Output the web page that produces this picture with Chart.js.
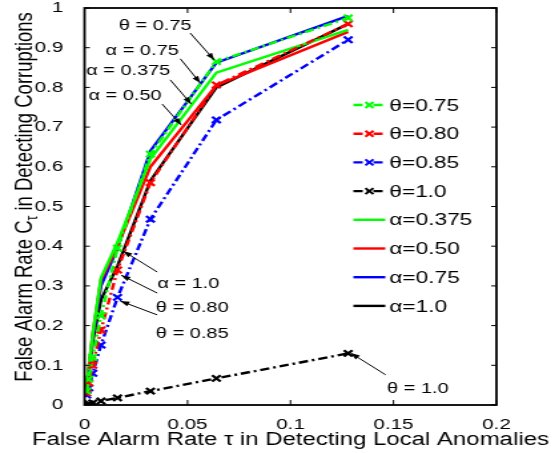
<!DOCTYPE html>
<html lang="en">
<head>
<meta charset="UTF-8">
<title>False alarm rates</title>
<script src="https://cdn.jsdelivr.net/npm/chart.js"></script>
<style>
  html, body { margin: 0; padding: 0; background: #fff; overflow: hidden; }
  /* the reference figure is stretched sideways, so draw narrow and stretch */
  #wrap { width: 420px; height: 453px; transform: scaleX(1.331); transform-origin: 0 0; }
</style>
</head>
<body>
<div id="wrap"><canvas id="roc"></canvas></div>
<script>
// false alarm rate tau (x) for every curve
const tau = [0.001, 0.002, 0.004, 0.008, 0.016, 0.032, 0.064, 0.128];

// dash-dot curves with markers
const theta075 = [0.035, 0.065, 0.12, 0.225, 0.395, 0.632, 0.865, 0.975];
const theta080 = [0.03, 0.055, 0.10, 0.189, 0.34, 0.56, 0.806, 0.96];
const theta085 = [0.025, 0.043, 0.08, 0.151, 0.271, 0.468, 0.718, 0.92];
const theta100 = [0.001, 0.003, 0.005, 0.01, 0.018, 0.035, 0.067, 0.13];

// solid curves
const alpha0375 = [0.04, 0.09, 0.18, 0.32, 0.41, 0.62, 0.837, 0.945];
const alpha050  = [0.04, 0.09, 0.18, 0.315, 0.40, 0.60, 0.805, 0.94];
const alpha075  = [0.035, 0.085, 0.17, 0.30, 0.395, 0.64, 0.862, 0.98];
const alpha100  = [0.03, 0.08, 0.16, 0.265, 0.35, 0.565, 0.80, 0.96];

const xTicks = [0, 0.05, 0.1, 0.15, 0.2];
const yTicks = [0, 0.1, 0.2, 0.3, 0.4, 0.5, 0.6, 0.7, 0.8, 0.9, 1];

// text callouts: label, text centre, arrow tail, arrow tip (data units)
const notes = [
  ['θ = 0.75',  0.0343, 0.957, 0.0513, 0.937, 0.063,  0.869],
  ['α = 0.75',  0.0280, 0.894, 0.0465, 0.872, 0.0562, 0.811],
  ['α = 0.375', 0.0212, 0.844, 0.0416, 0.819, 0.0518, 0.758],
  ['α = 0.50',  0.0197, 0.781, 0.0377, 0.758, 0.047,  0.705],
  ['α = 1.0',   0.0504, 0.307, 0.0353, 0.335, 0.0187, 0.388],
  ['θ = 0.80',  0.0523, 0.247, 0.0353, 0.282, 0.0178, 0.327],
  ['θ = 0.85',  0.0523, 0.181, 0.0353, 0.227, 0.0173, 0.262],
  ['θ = 1.0',   0.1618, 0.043, 0.1462, 0.076, 0.1292, 0.131]
];

const FONT = '"Liberation Sans", Arial, sans-serif';
const DASHDOT = [7, 3, 2, 3];

function pts(ys) {
  return tau.map((x, i) => ({ x: x, y: ys[i] }));
}
function dashed(label, ys, color) {
  return {
    label: label, data: pts(ys), showLine: true,
    borderColor: color, backgroundColor: color, borderWidth: 2.4, borderDash: DASHDOT,
    pointStyle: 'crossRot', pointRadius: 4.5, pointBorderWidth: 2.2, pointBorderColor: color
  };
}
function solid(label, ys, color) {
  return {
    label: label, data: pts(ys), showLine: true,
    borderColor: color, backgroundColor: color, borderWidth: 2.4, pointRadius: 0
  };
}

function cross(ctx, x, y, r) {
  ctx.beginPath();
  ctx.moveTo(x - r, y - r); ctx.lineTo(x + r, y + r);
  ctx.moveTo(x - r, y + r); ctx.lineTo(x + r, y - r);
  ctx.stroke();
}

// box, inward ticks, legend, callouts, axis titles
const decor = {
  id: 'decor',
  afterDatasetsDraw(chart) {
    const ctx = chart.ctx, a = chart.chartArea;
    const xs = chart.scales.x, ys = chart.scales.y;
    ctx.save();
    ctx.strokeStyle = '#000';
    ctx.lineWidth = 1;
    ctx.setLineDash([]);
    xTicks.forEach(v => {
      const px = xs.getPixelForValue(v);
      ctx.beginPath();
      ctx.moveTo(px, a.bottom); ctx.lineTo(px, a.bottom - 5);
      ctx.moveTo(px, a.top); ctx.lineTo(px, a.top + 5);
      ctx.stroke();
    });
    yTicks.forEach(v => {
      const py = ys.getPixelForValue(v);
      ctx.beginPath();
      ctx.moveTo(a.left, py); ctx.lineTo(a.left + 4, py);
      ctx.moveTo(a.right, py); ctx.lineTo(a.right - 4, py);
      ctx.stroke();
    });
    ctx.lineWidth = 1.8;
    ctx.strokeRect(a.left, a.top, a.right - a.left, a.bottom - a.top);

    // legend
    ctx.font = '17px ' + FONT;
    ctx.textBaseline = 'middle';
    ctx.textAlign = 'left';
    chart.data.datasets.forEach((ds, i) => {
      const y = a.top + 97 + i * 28.7;
      const x0 = a.left + 202, x1 = a.left + 226;
      ctx.strokeStyle = ds.borderColor;
      ctx.lineWidth = 2.4;
      ctx.setLineDash(ds.borderDash || []);
      ctx.beginPath(); ctx.moveTo(x0, y); ctx.lineTo(x1, y); ctx.stroke();
      ctx.setLineDash([]);
      ctx.lineWidth = 2;
      if (ds.pointRadius) cross(ctx, (x0 + x1) / 2, y, 3);
      ctx.fillStyle = '#000';
      ctx.fillText(ds.label, a.left + 229, y + 1);
    });

    // callouts
    ctx.font = '15px ' + FONT;
    ctx.textAlign = 'center';
    ctx.strokeStyle = '#000';
    ctx.fillStyle = '#000';
    ctx.lineWidth = 1;
    notes.forEach(n => {
      ctx.fillText(n[0], xs.getPixelForValue(n[1]), ys.getPixelForValue(n[2]) + 1);
      const x0 = xs.getPixelForValue(n[3]), y0 = ys.getPixelForValue(n[4]);
      const x1 = xs.getPixelForValue(n[5]), y1 = ys.getPixelForValue(n[6]);
      const ang = Math.atan2(y1 - y0, x1 - x0);
      ctx.beginPath(); ctx.moveTo(x0, y0); ctx.lineTo(x1, y1); ctx.stroke();
      ctx.beginPath();
      ctx.moveTo(x1, y1);
      ctx.lineTo(x1 - 7 * Math.cos(ang) + 2.5 * Math.sin(ang), y1 - 7 * Math.sin(ang) - 2.5 * Math.cos(ang));
      ctx.lineTo(x1 - 7 * Math.cos(ang) - 2.5 * Math.sin(ang), y1 - 7 * Math.sin(ang) + 2.5 * Math.cos(ang));
      ctx.closePath(); ctx.fill();
    });

    // x title
    ctx.font = '18px ' + FONT;
    ctx.textAlign = 'center';
    ctx.textBaseline = 'alphabetic';
    ctx.fillText('False Alarm Rate τ in Detecting Local Anomalies', (a.left + a.right) / 2, 445);

    // y title with subscript
    const p1 = 'False Alarm Rate C', sub = 'τ', p2 = ' in Detecting Corruptions';
    ctx.font = '18.5px ' + FONT;
    const w1 = ctx.measureText(p1).width, w2 = ctx.measureText(p2).width;
    ctx.font = '12px ' + FONT;
    const ws = ctx.measureText(sub).width;
    ctx.translate(17, 197);
    ctx.rotate(-Math.PI / 2);
    let sx = -(w1 + ws + w2) / 2;
    ctx.textAlign = 'left';
    ctx.font = '18.5px ' + FONT;
    ctx.fillText(p1, sx, 6.5);
    ctx.font = '12px ' + FONT;
    ctx.fillText(sub, sx + w1, 11);
    ctx.font = '18.5px ' + FONT;
    ctx.fillText(p2, sx + w1 + ws, 6.5);
    ctx.restore();
  }
};

const tickFmt = v => String(Number(v.toFixed(2)));

new Chart(document.getElementById('roc'), {
  type: 'scatter',
  data: {
    datasets: [
      dashed('θ=0.75', theta075, '#00ff00'),
      dashed('θ=0.80', theta080, '#ff0000'),
      dashed('θ=0.85', theta085, '#0000ff'),
      dashed('θ=1.0',  theta100, '#000000'),
      solid('α=0.375', alpha0375, '#00ff00'),
      solid('α=0.50',  alpha050,  '#ff0000'),
      solid('α=0.75',  alpha075,  '#0000ff'),
      solid('α=1.0',   alpha100,  '#000000')
    ]
  },
  options: {
    responsive: true,
    maintainAspectRatio: false,
    animation: false,
    layout: { padding: { left: 0, right: 47, top: 8, bottom: 0 } },
    plugins: { legend: { display: false }, tooltip: { enabled: false } },
    scales: {
      x: {
        type: 'linear', min: 0, max: 0.2,
        afterBuildTicks: s => { s.ticks = xTicks.map(v => ({ value: v })); },
        afterFit: s => { s.height = 48; s.paddingLeft = 0; s.paddingRight = 0; },
        grid: { display: false }, border: { display: false },
        ticks: { callback: tickFmt, color: '#000', padding: 2, maxRotation: 0, font: { size: 15.5, family: FONT } }
      },
      y: {
        min: 0, max: 1,
        afterBuildTicks: s => { s.ticks = yTicks.map(v => ({ value: v })); },
        afterFit: s => { s.width = 63.5; s.paddingTop = 0; s.paddingBottom = 0; },
        grid: { display: false }, border: { display: false },
        ticks: { callback: tickFmt, color: '#000', padding: 8, font: { size: 15.5, family: FONT } }
      }
    }
  },
  plugins: [decor]
});
</script>
</body>
</html>
